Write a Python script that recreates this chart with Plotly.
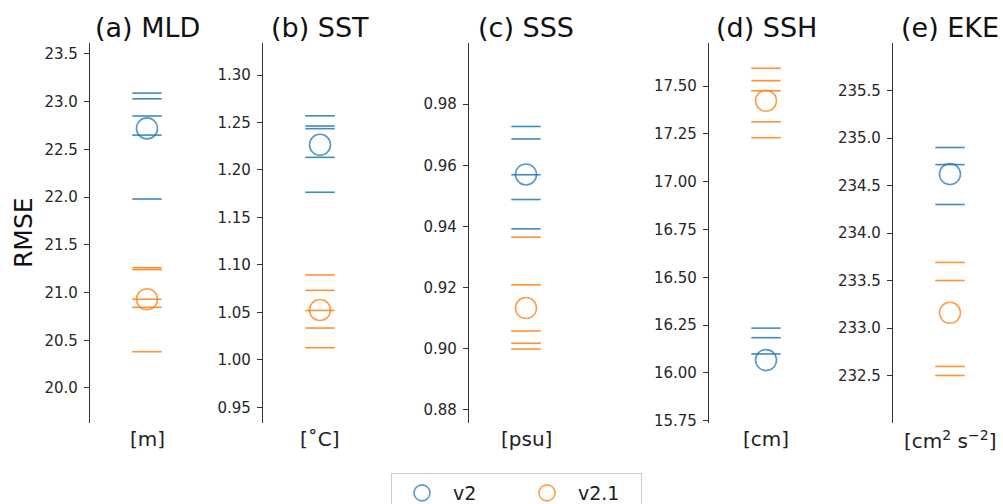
import plotly.graph_objects as go

# ---------------- data ----------------
panels = ["(a) MLD", "(b) SST", "(c) SSS", "(d) SSH", "(e) EKE"]
units = ["[m]", "[˚C]", "[psu]", "[cm]", "[cm<sup>2</sup> s<sup>−2</sup>]"]

v2_mean = [22.72, 1.2265, 0.957, 16.067, 234.62]
v21_mean = [20.93, 1.0525, 0.9133, 17.423, 233.16]

v2_members = [
    [23.09, 23.03, 22.85, 22.65, 21.98],
    [1.257, 1.2463, 1.2435, 1.2133, 1.1765],
    [0.9727, 0.9686, 0.9569, 0.9488, 0.9392],
    [16.234, 16.184, 16.099],
    [234.90, 234.72, 234.30],
]
v21_members = [
    [21.26, 21.24, 20.93, 20.845, 20.38],
    [1.0894, 1.0732, 1.052, 1.0335, 1.0128],
    [0.9365, 0.9209, 0.9058, 0.9018, 0.8999],
    [17.593, 17.528, 17.475, 17.313, 17.230],
    [233.69, 233.50, 232.595, 232.50],
]

y_ranges = [
    [19.633, 23.615],
    [0.9335, 1.3337],
    [0.8757, 1.0000],
    [15.738, 17.725],
    [232.0, 236.0],
]
tick_vals = [
    [20.0, 20.5, 21.0, 21.5, 22.0, 22.5, 23.0, 23.5],
    [0.95, 1.00, 1.05, 1.10, 1.15, 1.20, 1.25, 1.30],
    [0.88, 0.90, 0.92, 0.94, 0.96, 0.98],
    [15.75, 16.00, 16.25, 16.50, 16.75, 17.00, 17.25, 17.50],
    [232.5, 233.0, 233.5, 234.0, 234.5, 235.0, 235.5],
]
tick_fmt = ["{:.1f}", "{:.2f}", "{:.2f}", "{:.2f}", "{:.1f}"]

# ---------------- style ----------------
W, H = 1003, 504
BLUE = "#1f77b4"
ORANGE = "#ff7f0e"
axis_px = [90, 263, 469, 709, 893]
panel_w = 114
font = "DejaVu Sans"

fig = go.Figure()
layout = dict(
    width=W, height=H,
    margin=dict(l=0, r=0, t=43, b=81, autoexpand=False),
    paper_bgcolor="white", plot_bgcolor="white",
    font=dict(family=font, color="#222", size=14),
    annotations=[], showlegend=True,
)

for i in range(5):
    n = "" if i == 0 else str(i + 1)
    xa, ya = "x" + n, "y" + n
    left = axis_px[i] / W
    right = min((axis_px[i] + panel_w) / W, 1.0)
    xr_hi = 0.5 - ((axis_px[i] + panel_w) / W - right) * W / panel_w

    for members, color in ((v2_members[i], BLUE), (v21_members[i], ORANGE)):
        fig.add_trace(go.Scatter(
            x=[0] * len(members), y=members, xaxis=xa, yaxis=ya,
            mode="markers", showlegend=False, hoverinfo="y",
            marker=dict(symbol="line-ew", size=21, color=color, opacity=0.85,
                        line=dict(width=1.6, color=color)),
        ))
    fig.add_trace(go.Scatter(
        x=[0], y=[v2_mean[i]], xaxis=xa, yaxis=ya, mode="markers",
        name="v2", showlegend=(i == 0), legendgroup="v2",
        marker=dict(symbol="circle-open", size=21, color=BLUE, opacity=0.75,
                    line=dict(width=1.6, color=BLUE)),
    ))
    fig.add_trace(go.Scatter(
        x=[0], y=[v21_mean[i]], xaxis=xa, yaxis=ya, mode="markers",
        name="v2.1", showlegend=(i == 0), legendgroup="v21",
        marker=dict(symbol="circle-open", size=21, color=ORANGE, opacity=0.75,
                    line=dict(width=1.6, color=ORANGE)),
    ))

    layout["xaxis" + n] = dict(domain=[left, right], range=[-0.5, xr_hi],
                               visible=False, anchor=ya, fixedrange=True)
    layout["yaxis" + n] = dict(
        range=y_ranges[i], anchor=xa, showline=True, linecolor="#333",
        linewidth=1.2, ticks="outside", ticklen=5, tickwidth=1.2,
        tickcolor="#333", showgrid=False, zeroline=False,
        tickvals=tick_vals[i], ticktext=[tick_fmt[i].format(v) for v in tick_vals[i]],
        tickfont=dict(size=15, color="#262626", family=font),
        ticklabelstandoff=3,
    )
    layout["annotations"].append(dict(
        text=panels[i], xref=xa, x=0, yref="paper", y=1, yanchor="middle",
        yshift=16, showarrow=False, font=dict(size=27, color="#111", family=font),
    ))
    layout["annotations"].append(dict(
        text=units[i], xref=xa, x=0, yref="paper", y=0, yanchor="top",
        yshift=-2, showarrow=False, font=dict(size=20, color="#222", family=font),
    ))

layout["annotations"].append(dict(
    text="RMSE", xref="paper", x=23 / W, xanchor="center", yref="paper",
    y=0.5, yanchor="middle", textangle=-90, showarrow=False,
    font=dict(size=25, color="#111", family=font),
))

layout["legend"] = dict(
    orientation="h", x=391 / W, xanchor="left", y=(423 - 473) / 380,
    yanchor="top", bordercolor="#cccccc", borderwidth=1,
    font=dict(size=19, color="#222", family=font),
    itemwidth=52, entrywidth=58, entrywidthmode="pixels",
)

fig.update_layout(**layout)
fig.write_html("out.html")
